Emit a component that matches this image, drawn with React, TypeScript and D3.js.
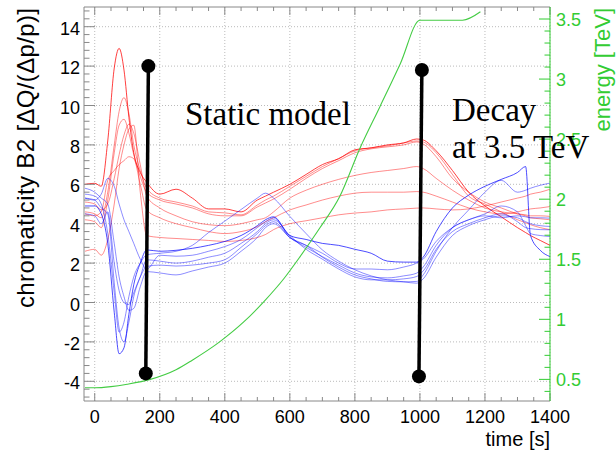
import React from "react";
import * as d3 from "d3";

// sample times [s] shared by all chromaticity traces
const TIME = [-30, 0, 20, 40, 60, 75, 90, 105, 120, 140, 160, 200, 250, 300, 350, 400, 450, 500, 525, 550,
  600, 650, 700, 750, 800, 850, 900, 950, 990, 1010, 1050, 1100, 1150, 1200, 1250, 1300, 1325, 1340, 1370, 1400];

// red traces
const RED_A = [6.0, 6.05, 5.9, 8.2, 11.9, 12.9, 11.8, 9.4, 7.6, 6.6, 6.1, 5.5, 5.75, 5.3, 4.75, 4.75, 4.6, 5.2, 5.4, 5.6,
  6.0, 6.5, 7.0, 7.3, 7.75, 7.85, 8.0, 8.1, 8.3, 8.25, 7.7, 6.7, 5.6, 4.9, 4.35, 3.8, 3.55, 3.4, 3.15, 2.9];
const RED_B = [4.6, 4.5, 4.3, 5.6, 8.0, 9.7, 10.4, 9.6, 8.0, 6.7, 5.8, 5.3, 5.1, 4.9, 4.6, 4.55, 4.45, 4.95, 5.2, 5.4,
  5.9, 6.4, 6.9, 7.3, 7.7, 7.85, 7.95, 8.1, 8.2, 8.15, 7.6, 6.5, 5.4, 5.0, 4.6, 4.2, 4.05, 3.95, 3.8, 3.7];
const RED_C = [4.2, 4.1, 3.8, 5.2, 7.6, 9.0, 9.3, 8.6, 7.5, 6.4, 5.6, 5.2, 5.0, 4.8, 4.5, 4.4, 4.4, 4.85, 5.05, 5.25,
  5.75, 6.3, 6.8, 7.2, 7.6, 7.8, 7.9, 8.0, 8.15, 8.05, 7.4, 6.3, 5.6, 5.1, 4.8, 4.5, 4.4, 4.3, 4.25, 4.2];
const RED_D = [5.1, 5.0, 4.7, 5.0, 6.3, 7.5, 8.5, 9.05, 8.6, 7.0, 5.4, 4.8, 4.4, 4.1, 3.95, 3.9, 4.0, 4.2, 4.3, 4.6,
  5.3, 5.7, 6.0, 6.25, 6.45, 6.6, 6.7, 6.8, 6.9, 6.8, 6.3, 5.7, 5.2, 4.8, 4.6, 4.5, 4.45, 4.4, 4.4, 4.37];
const RED_E = [4.5, 4.4, 4.6, 6.2, 6.7, 7.0, 7.2, 7.4, 7.3, 6.0, 4.7, 4.3, 4.0, 3.8, 3.6, 3.5, 3.6, 3.85, 4.1, 4.3,
  4.7, 4.95, 5.2, 5.4, 5.55, 5.6, 5.6, 5.6, 5.63, 5.6, 5.4, 5.1, 4.8, 4.6, 4.5, 4.6, 4.7, 4.75, 4.8, 4.87];
const RED_F = [2.6, 2.7, 2.4, 3.2, 5.0, 6.8, 8.0, 8.8, 9.0, 5.6, 3.4, 3.3, 3.25, 3.2, 3.15, 3.1, 3.15, 3.3, 3.45, 3.7,
  4.0, 4.15, 4.3, 4.45, 4.54, 4.6, 4.7, 4.75, 4.79, 4.8, 4.75, 4.7, 4.75, 4.9, 5.1, 5.3, 5.4, 5.5, 5.6, 5.75];

// blue traces
const BLUE_A = [5.5, 5.4, 5.0, 3.5, 0.5, -1.5, -1.0, 0.3, 1.3, 2.0, 2.42, 2.5, 2.6, 2.9, 3.55, 4.13, 4.72, 5.3, 5.55, 5.3,
  4.37, 3.5, 2.67, 2.1, 1.66, 1.35, 1.15, 1.05, 0.98, 1.2, 2.3, 3.4, 3.9, 4.2, 4.4, 4.3, 4.1, 4.0, 3.9, 3.86];
const BLUE_B = [4.9, 4.9, 4.5, 3.0, -0.5, -2.6, -2.3, -0.6, 0.9, 2.0, 2.67, 2.6, 2.65, 2.75, 2.9, 3.1, 3.4, 3.9, 4.2, 4.35,
  3.4, 3.2, 3.0, 2.9, 2.7, 2.5, 2.1, 2.05, 2.05, 2.3, 3.6, 4.8, 5.45, 5.9, 6.25, 6.6, 6.9, 3.4, 2.65, 2.33];
const BLUE_C = [5.3, 5.2, 4.8, 4.5, 1.0, -1.3, -2.0, -1.0, 0.3, 1.3, 2.17, 2.1, 2.0, 2.1, 2.3, 2.5, 3.0, 3.6, 4.0, 4.2,
  3.4, 2.7, 2.2, 1.7, 1.3, 1.15, 1.15, 1.2, 1.32, 1.6, 2.7, 3.6, 4.0, 4.3, 4.5, 4.1, 3.8, 3.75, 3.7, 3.69];
const BLUE_D = [4.5, 4.4, 4.0, 4.6, 2.0, 0.6, 0.0, -0.1, 0.5, 1.3, 1.83, 1.9, 1.85, 1.9, 2.0, 2.17, 2.8, 3.5, 3.9, 4.1,
  3.3, 2.8, 2.33, 1.9, 1.5, 1.3, 1.25, 1.35, 1.49, 1.8, 2.9, 3.8, 4.2, 4.5, 4.9, 4.6, 3.9, 3.5, 3.4, 3.35];
const BLUE_E = [5.8, 5.6, 5.3, 5.0, 3.0, 1.3, 0.3, -0.4, -0.3, 0.8, 1.57, 1.5, 1.4, 1.6, 1.8, 2.0, 2.6, 3.3, 3.8, 4.0,
  3.3, 2.9, 2.3, 1.8, 1.4, 1.2, 1.07, 1.05, 1.07, 1.4, 2.6, 3.8, 4.7, 5.6, 6.2, 5.6, 5.7, 5.8, 5.95, 6.06];
const BLUE_F = [5.3, 5.2, 5.5, 6.3, 5.9, 5.0, 4.2, 3.6, 3.0, 2.2, 1.7, 2.4, 2.35, 2.4, 2.6, 2.84, 3.2, 3.8, 4.1, 4.3,
  3.3, 2.9, 2.5, 2.0, 1.7, 1.7, 1.66, 1.8, 2.0, 2.2, 3.1, 3.8, 4.2, 4.4, 4.3, 4.4, 4.35, 4.3, 4.3, 4.28];

// beam energy ramp
const ENERGY_TIME = [-30, 0, 50, 100, 171, 250, 300, 383, 459, 521, 582, 631, 692, 753, 815, 877, 940, 1000, 1131, 1186];
const ENERGY_TEV = [0.43, 0.43, 0.44, 0.46, 0.5, 0.58, 0.66, 0.81, 0.98, 1.15, 1.34, 1.52, 1.76, 2.02, 2.42, 2.77, 3.13, 3.49, 3.49, 3.56];

// annotation bars: [t top, value top, t bottom, value bottom]
const MARKERS = [
  [165, 12.0, 157, -3.6],
  [1006, 11.8, 997, -3.75],
];

const X_TICKS = [0, 200, 400, 600, 800, 1000, 1200, 1400];
const Y_TICKS = [-4, -2, 0, 2, 4, 6, 8, 10, 12, 14];
const E_TICKS = [0.5, 1, 1.5, 2, 2.5, 3, 3.5];

const REDS = [RED_A, RED_B, RED_C, RED_D, RED_E, RED_F];
const BLUES = [BLUE_A, BLUE_B, BLUE_C, BLUE_D, BLUE_E, BLUE_F];

const SANS = "Liberation Sans, Arial, sans-serif";
const SERIF = "Liberation Serif, Times New Roman, serif";
const GREEN = "#33cc33";
const FRAME = "#888";

export default function App() {
  const W = 616, H = 450;
  const x = d3.scaleLinear().domain([-33, 1400]).range([84, 550]);
  const y = d3.scaleLinear().domain([-5, 15]).range([401, 7]);
  const e = d3.scaleLinear().domain([0.32, 3.6]).range([401, 7]);
  const [x0, x1] = x.range();
  const [y0, y1] = y.range();

  const trace = d3.line<number>()
    .x((_, i) => x(TIME[i]))
    .y((v) => y(v))
    .curve(d3.curveMonotoneX);

  const energyLine = d3.line<number>()
    .x((_, i) => x(ENERGY_TIME[i]))
    .y((v) => e(v))
    .curve(d3.curveMonotoneX);

  const xMinor = d3.range(0, 1401, 50).filter((t) => t % 200 !== 0);
  const yMinor = d3.range(-4.8, 15, 0.4).filter((v) => Math.abs(v / 2 - Math.round(v / 2)) > 0.01);
  const eMinor = d3.range(0.4, 3.6, 0.1).filter((v) => Math.abs(v * 2 - Math.round(v * 2)) > 0.01);

  return (
    <svg width={W} height={H} style={{ position: "absolute", left: 0, top: 0, background: "#fff" }}>
      <defs>
        <clipPath id="plot">
          <rect x={x0} y={y1} width={x1 - x0} height={y0 - y1} />
        </clipPath>
      </defs>

      {/* grid */}
      <g stroke="#bbb" strokeWidth={1} strokeDasharray="1,2">
        {X_TICKS.map((t) => (
          <line key={"gx" + t} x1={x(t)} x2={x(t)} y1={y0} y2={y1} />
        ))}
        {Y_TICKS.map((v) => (
          <line key={"gy" + v} x1={x0} x2={x1} y1={y(v)} y2={y(v)} />
        ))}
      </g>

      {/* traces */}
      <g clipPath="url(#plot)" fill="none">
        {REDS.map((s, i) => (
          <path key={"r" + i} d={trace(s) || ""} stroke="#ff0000" strokeWidth={1}
            strokeOpacity={i === 0 ? 0.75 : 0.45} />
        ))}
        {BLUES.map((s, i) => (
          <path key={"b" + i} d={trace(s) || ""} stroke="#0000ff" strokeWidth={1}
            strokeOpacity={i === 1 ? 0.7 : 0.45} />
        ))}
        <path d={energyLine(ENERGY_TEV) || ""} stroke="#44cc44" strokeWidth={1.1} />
      </g>

      {/* frame and ticks */}
      <g stroke={FRAME} strokeWidth={1}>
        <line x1={x0} x2={x1} y1={y0} y2={y0} />
        <line x1={x0} x2={x1} y1={y1} y2={y1} />
        <line x1={x0} x2={x0} y1={y0} y2={y1} />
        {X_TICKS.map((t) => (
          <g key={"tx" + t}>
            <line x1={x(t)} x2={x(t)} y1={y0} y2={y0 - 8} />
            <line x1={x(t)} x2={x(t)} y1={y1} y2={y1 + 8} />
          </g>
        ))}
        {xMinor.map((t) => (
          <g key={"mx" + t}>
            <line x1={x(t)} x2={x(t)} y1={y0} y2={y0 - 4} />
            <line x1={x(t)} x2={x(t)} y1={y1} y2={y1 + 4} />
          </g>
        ))}
        {Y_TICKS.map((v) => (
          <line key={"ty" + v} x1={x0} x2={x0 + 11} y1={y(v)} y2={y(v)} />
        ))}
        {yMinor.map((v) => (
          <line key={"my" + v} x1={x0} x2={x0 + 5.5} y1={y(v)} y2={y(v)} />
        ))}
      </g>

      <g stroke={GREEN} strokeWidth={1}>
        <line x1={x1} x2={x1} y1={y0} y2={y1} />
        {E_TICKS.map((v) => (
          <line key={"te" + v} x1={x1} x2={x1 - 11} y1={e(v)} y2={e(v)} />
        ))}
        {eMinor.map((v) => (
          <line key={"me" + v} x1={x1} x2={x1 - 5.5} y1={e(v)} y2={e(v)} />
        ))}
      </g>

      {/* tick labels */}
      <g fontFamily={SANS} fontSize={18} fill="#000">
        {X_TICKS.map((t) => (
          <text key={"lx" + t} x={x(t)} y={423} textAnchor="middle">{t}</text>
        ))}
        {Y_TICKS.map((v) => (
          <text key={"ly" + v} x={80} y={y(v) + 8} textAnchor="end">{v}</text>
        ))}
      </g>
      <g fontFamily={SANS} fontSize={18} fill={GREEN}>
        {E_TICKS.map((v) => (
          <text key={"le" + v} x={556} y={e(v) + 7}>{v}</text>
        ))}
      </g>

      {/* axis titles */}
      <text x={550} y={446} textAnchor="end" fontFamily={SANS} fontSize={20}>time [s]</text>
      <text transform="translate(34,8) rotate(-90)" textAnchor="end" fontFamily={SANS} fontSize={24}
        textLength={300} lengthAdjust="spacing">
        chromaticity B2 [ΔQ/(Δp/p)]
      </text>
      <text transform="translate(610,8) rotate(-90)" textAnchor="end" fontFamily={SANS} fontSize={22} fill={GREEN}>
        energy [TeV]
      </text>

      {/* annotations */}
      {MARKERS.map(([ta, va, tb, vb], i) => (
        <g key={"m" + i} fill="#000">
          <line x1={x(ta)} y1={y(va)} x2={x(tb)} y2={y(vb)} stroke="#000" strokeWidth={3.5} />
          <circle cx={x(ta)} cy={y(va)} r={7} />
          <circle cx={x(tb)} cy={y(vb)} r={7} />
        </g>
      ))}
      <g fontFamily={SERIF} fontSize={33} fill="#000">
        <text x={185} y={125}>Static model</text>
        <text x={452} y={121}>Decay</text>
        <text x={452} y={158}>at 3.5 TeV</text>
      </g>
    </svg>
  );
}
